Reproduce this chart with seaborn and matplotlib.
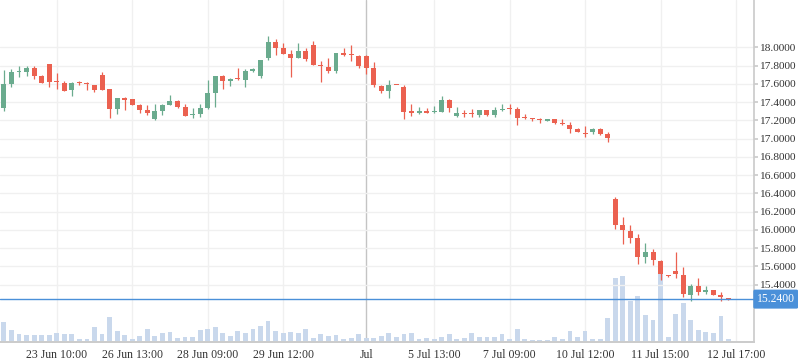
import numpy as np
import seaborn as sns
import matplotlib.pyplot as plt

# candle data (one bar per period, index = position on the time axis)
opens = [17.338, 17.598, 17.729, 17.729, 17.773, 17.685, 17.817, 17.625, 17.609, 17.532,
         17.612, 17.600, 17.587, 17.696, 17.543, 17.324, 17.444, 17.433, 17.368, 17.313,
         17.214, 17.302, 17.368, 17.411, 17.346, 17.262, 17.269, 17.335, 17.502, 17.685,
         17.634, 17.653, 17.642, 17.745, 17.689, 17.886, 18.058, 17.992, 17.930, 17.886,
         17.959, 18.025, 17.800, 17.784, 17.744, 17.938, 17.920, 17.905, 17.905, 17.773,
         17.576, 17.524, 17.590, 17.565, 17.302, 17.283, 17.302, 17.288, 17.294, 17.422,
         17.250, 17.272, 17.272, 17.258, 17.313, 17.258, 17.310, 17.327, 17.324, 17.225,
         17.217, 17.206, 17.196, 17.214, 17.162, 17.148, 17.108, 17.056, 17.075, 17.108,
         17.053, 16.338, 16.056, 15.984, 15.910, 15.705, 15.760, 15.661, 15.493, 15.552,
         15.505, 15.289, 15.384, 15.322, 15.344, 15.289, 15.245]
highs = [17.751, 17.762, 17.795, 17.795, 17.795, 17.696, 17.817, 17.718, 17.631, 17.620,
         17.631, 17.620, 17.587, 17.729, 17.543, 17.444, 17.455, 17.433, 17.379, 17.368,
         17.379, 17.379, 17.477, 17.422, 17.379, 17.335, 17.379, 17.642, 17.685, 17.696,
         17.667, 17.773, 17.762, 17.773, 17.861, 18.124, 18.091, 18.044, 17.970, 18.047,
         17.992, 18.069, 17.850, 17.883, 17.938, 17.992, 18.025, 17.916, 17.916, 17.839,
         17.587, 17.642, 17.590, 17.587, 17.379, 17.346, 17.335, 17.357, 17.466, 17.433,
         17.346, 17.313, 17.324, 17.313, 17.313, 17.346, 17.379, 17.379, 17.346, 17.269,
         17.228, 17.228, 17.214, 17.214, 17.214, 17.181, 17.115, 17.138, 17.119, 17.119,
         17.075, 16.363, 16.140, 16.056, 15.957, 15.859, 15.786, 15.672, 15.501, 15.760,
         15.592, 15.403, 15.472, 15.381, 15.344, 15.322, 15.250]
lows = [17.305, 17.565, 17.675, 17.685, 17.653, 17.609, 17.565, 17.543, 17.521, 17.466,
        17.587, 17.532, 17.510, 17.532, 17.225, 17.269, 17.313, 17.368, 17.280, 17.258,
        17.203, 17.258, 17.368, 17.335, 17.247, 17.225, 17.236, 17.324, 17.346, 17.543,
        17.576, 17.642, 17.565, 17.729, 17.667, 17.864, 17.919, 17.930, 17.678, 17.886,
        17.853, 17.806, 17.623, 17.722, 17.722, 17.905, 17.850, 17.776, 17.711, 17.568,
        17.502, 17.448, 17.585, 17.214, 17.250, 17.272, 17.283, 17.283, 17.294, 17.294,
        17.239, 17.239, 17.239, 17.239, 17.250, 17.239, 17.305, 17.272, 17.152, 17.214,
        17.196, 17.174, 17.196, 17.159, 17.152, 17.064, 17.070, 17.020, 17.045, 17.042,
        16.965, 16.012, 15.848, 15.859, 15.629, 15.639, 15.618, 15.453, 15.483, 15.475,
        15.267, 15.223, 15.282, 15.300, 15.285, 15.223, 15.235]
closes = [17.598, 17.729, 17.735, 17.773, 17.685, 17.609, 17.620, 17.620, 17.521, 17.609,
          17.609, 17.598, 17.532, 17.532, 17.324, 17.444, 17.422, 17.368, 17.313, 17.280,
          17.302, 17.368, 17.411, 17.346, 17.247, 17.269, 17.335, 17.499, 17.685, 17.634,
          17.653, 17.649, 17.740, 17.751, 17.861, 18.058, 17.996, 17.930, 17.886, 17.959,
          17.872, 17.806, 17.795, 17.744, 17.938, 17.916, 17.916, 17.795, 17.776, 17.590,
          17.524, 17.587, 17.587, 17.294, 17.283, 17.302, 17.283, 17.291, 17.422, 17.338,
          17.280, 17.269, 17.269, 17.313, 17.258, 17.313, 17.313, 17.324, 17.228, 17.222,
          17.214, 17.203, 17.214, 17.174, 17.159, 17.108, 17.075, 17.053, 17.108, 17.053,
          17.009, 16.056, 16.001, 15.913, 15.705, 15.760, 15.672, 15.519, 15.490, 15.519,
          15.300, 15.381, 15.322, 15.344, 15.289, 15.267, 15.240]
volumes = [61, 37, 25, 22, 22, 22, 22, 28, 25, 25, 10, 10, 46, 25, 76, 34, 22, 10, 19, 40,
           19, 28, 31, 13, 16, 16, 37, 40, 46, 28, 19, 34, 28, 40, 49, 64, 34, 28, 31, 28,
           40, 13, 25, 19, 22, 10, 13, 25, 13, 13, 19, 28, 15, 24, 27, 9, 12, 9, 15, 24,
           9, 12, 27, 15, 15, 15, 24, 9, 39, 9, 6, 6, 6, 15, 9, 33, 15, 33, 9, 9,
           72, 192, 198, 123, 138, 81, 66, 216, 15, 84, 117, 66, 36, 30, 27, 78, 9]

tick_pos = [7, 17, 27, 37, 48, 57, 67, 77, 87, 97]
tick_labels = ["23 Jun 10:00", "26 Jun 13:00", "28 Jun 09:00", "29 Jun 12:00", "Jul",
               "5 Jul 13:00", "7 Jul 09:00", "10 Jul 12:00", "11 Jul 15:00", "12 Jul 17:00"]
price_ticks = [15.4, 15.6, 15.8, 16.0, 16.2, 16.4, 16.6, 16.8, 17.0, 17.2, 17.4, 17.6, 17.8, 18.0]
last_price = 15.24

UP = "#6aab8e"
DOWN = "#eb6150"
VOL = "#c9d8ec"
GRID = "#f0f0f0"
TEXT = "#333333"

sns.set_theme(style="white")
plt.rcParams["font.family"] = ["Liberation Serif", "DejaVu Serif"]

fig = plt.figure(figsize=(7.98, 3.63), dpi=100)
ax = fig.add_axes([0.0, 21 / 363, 754 / 798, 342 / 363])

# volume underneath
idx = np.arange(len(volumes))
sns.barplot(x=idx, y=volumes, color=VOL, saturation=1, width=0.64, linewidth=0, ax=ax)
ax.set_ylim(0, 1026)
ax.set_yticks([])
ax.set_ylabel("")

# price on the right axis
ax2 = ax.twinx()
for i in range(len(opens)):
    o, h, l, c = opens[i], highs[i], lows[i], closes[i]
    col = UP if c >= o else DOWN
    ax2.vlines(i, l, h, color=col, lw=0.9, zorder=3)
    ax2.bar(i, max(abs(c - o), 0.012), bottom=min(o, c), width=0.66, color=col,
            linewidth=0, zorder=4)

ax2.set_ylim(14.770, 18.518)
ax2.set_yticks(price_ticks)
ax2.set_yticklabels([f"{t:.4f}" for t in price_ticks])
ax2.grid(axis="y", color=GRID, lw=1, zorder=0)
ax2.axhline(last_price, color="#4a90d9", lw=1, zorder=5)
ax2.annotate(f"{last_price:.4f}", xy=(1.0, last_price), xycoords=("axes fraction", "data"),
             xytext=(2, 0), textcoords="offset points", va="center", ha="left",
             color="white", fontsize=8.4,
             bbox=dict(boxstyle="round,pad=0.3,rounding_size=0.15", fc="#4a90d9", ec="none"))

ax.set_xlim(-0.517, 99.38)
ax.set_xticks(tick_pos)
ax.set_xticklabels(tick_labels)
ax.set_xlabel("")
for t in tick_pos:
    ax.axvline(t, color="#c4c4c4" if t == 48 else GRID, lw=1, zorder=0)

for a in (ax, ax2):
    for side in ("top", "left", "right"):
        a.spines[side].set_visible(False)
    a.spines["bottom"].set_color("#cccccc")
ax2.spines["right"].set_visible(True)
ax2.spines["right"].set_color("#cccccc")

ax.tick_params(axis="x", length=3, color="#cccccc", labelsize=8.5, labelcolor=TEXT, pad=2)
ax2.tick_params(axis="y", length=3, color="#cccccc", labelsize=8.2, labelcolor=TEXT, pad=0.5,
                right=True, left=False)

fig.savefig("out.png", dpi=100)
